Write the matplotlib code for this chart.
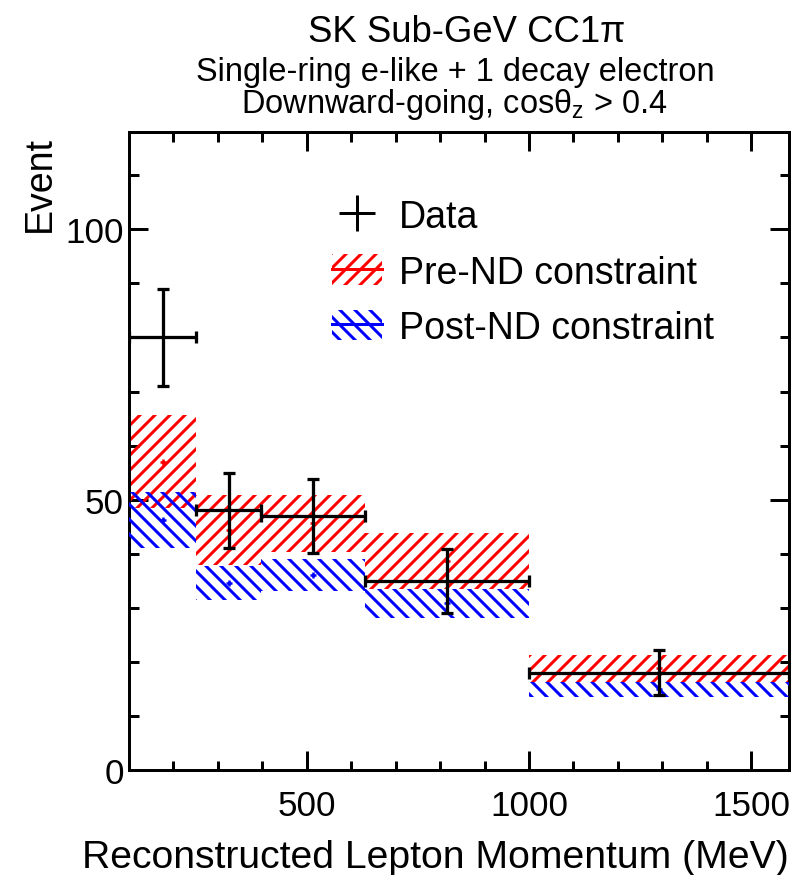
import numpy as np
import matplotlib
matplotlib.use("Agg")
import matplotlib.pyplot as plt
from matplotlib.patches import Patch
from matplotlib.lines import Line2D
from matplotlib.ticker import MultipleLocator

plt.rcParams['font.family'] = ['Liberation Sans', 'DejaVu Sans']
plt.rcParams['mathtext.fontset'] = 'custom'
plt.rcParams['mathtext.rm'] = 'Liberation Sans'
plt.rcParams['hatch.linewidth'] = 2.4

# Reconstructed lepton momentum binning (MeV)
bin_edges = [100, 251, 398, 631, 1000, 1585]

# Observed events with statistical errors
data_counts = [80, 48, 47, 35, 18]
data_err = [8.9, 6.9, 6.9, 5.9, 4.2]

# Prediction before the near-detector constraint
pre_nd = [57.0, 44.4, 45.6, 38.6, 18.8]
pre_nd_err = [8.6, 6.4, 5.2, 5.2, 2.5]

# Prediction after the near-detector constraint
post_nd = [46.2, 34.6, 36.1, 30.8, 14.9]
post_nd_err = [5.2, 3.2, 3.0, 2.7, 1.4]

edges = np.array(bin_edges, dtype=float)
lo = edges[:-1]
widths = np.diff(edges)
centers = 0.5 * (edges[:-1] + edges[1:])

DPI = 90
fig = plt.figure(figsize=(794 / DPI, 876 / DPI), dpi=DPI)
ax = fig.add_axes([129 / 794, 1 - 771 / 876, 660 / 794, 638 / 876])

pre = np.array(pre_nd); pre_e = np.array(pre_nd_err)
post = np.array(post_nd); post_e = np.array(post_nd_err)

ax.bar(lo, 2 * pre_e, width=widths, bottom=pre - pre_e, align='edge',
       fill=False, hatch='//', edgecolor='red', linewidth=0, zorder=2)
ax.bar(lo, 2 * post_e, width=widths, bottom=post - post_e, align='edge',
       fill=False, hatch='\\\\', edgecolor='blue', linewidth=0, zorder=3)
ax.plot(centers, pre, '+', color='red', ms=5.5, mew=2, zorder=4)
ax.plot(centers, post, '+', color='blue', ms=5.5, mew=2, zorder=4)

ax.errorbar(centers, data_counts, xerr=widths / 2, yerr=data_err,
            fmt='none', ecolor='black', elinewidth=2.6, capsize=4.8,
            capthick=2.6, zorder=5)

ax.set_xlim(edges[0], edges[-1])
ax.set_ylim(0, 118)

ax.xaxis.set_major_locator(MultipleLocator(500))
ax.xaxis.set_minor_locator(MultipleLocator(100))
ax.yaxis.set_major_locator(MultipleLocator(50))
ax.yaxis.set_minor_locator(MultipleLocator(10))
ax.tick_params(which='both', direction='in', top=True, right=True, width=2.4)
ax.tick_params(which='major', length=15)
ax.tick_params(which='minor', length=7.6)
ax.tick_params(axis='x', which='major', labelsize=28, pad=15)
ax.tick_params(axis='y', which='major', labelsize=28, pad=4)
for s in ax.spines.values():
    s.set_linewidth(2.4)

fig.text(789 / 794, 1 - 858 / 876, 'Reconstructed Lepton Momentum (MeV)',
         ha='right', va='center', fontsize=31.3)
fig.text(40 / 794, 1 - 136 / 876, 'Event', rotation=90,
         ha='center', va='top', fontsize=30)

fig.text(467 / 794, 1 - 32 / 876, 'SK Sub-GeV CC1π', ha='center',
         va='center', fontsize=29.2)
fig.text(455 / 794, 1 - 72 / 876, 'Single-ring e-like + 1 decay electron',
         ha='center', va='center', fontsize=26)
fig.text(454 / 794, 1 - 105 / 876,
         r'Downward-going, cosθ$_\mathregular{z}$ > 0.4',
         ha='center', va='center', fontsize=26)

h_data = Line2D([], [], marker='+', ms=29, mew=2.4, ls='none', color='black')
h_pre = (Patch(facecolor='none', edgecolor='red', hatch='//', linewidth=0),
         Line2D([], [], color='red', lw=2.4))
h_post = (Patch(facecolor='none', edgecolor='blue', hatch='\\\\', linewidth=0),
          Line2D([], [], color='blue', lw=2.4))
ax.legend([h_data, h_pre, h_post],
          ['Data', 'Pre-ND constraint', 'Post-ND constraint'],
          loc='upper left', bbox_to_anchor=((332 - 129) / 660, (771 - 200) / 638),
          frameon=False, fontsize=30, borderpad=0, borderaxespad=0,
          handlelength=1.33, handleheight=0.88, handletextpad=0.45,
          labelspacing=0.51)

fig.savefig('out.png', dpi=DPI)
